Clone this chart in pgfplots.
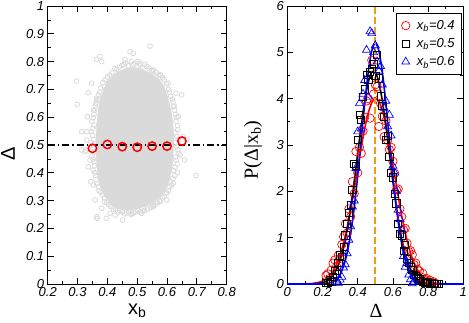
\documentclass[border=0pt]{standalone}
\usepackage{fontspec}
\setmainfont{Liberation Serif}
\setsansfont{Liberation Sans}
\usepackage{pgfplots}
\pgfplotsset{compat=1.18}
\definecolor{cloud}{HTML}{DADADA}
\definecolor{dashorange}{HTML}{F39C12}
\definecolor{gred}{HTML}{FF0000}
\definecolor{gblue}{HTML}{0000FF}

\pgfplotsset{
  grace/.style={
    scale only axis,
    axis line style={line width=0.9pt},
    tick align=inside,
    major tick length=6pt,
    minor tick length=3pt,
    every tick/.style={black,line width=0.8pt},
    tick label style={font=\sffamily\itshape\fontsize{13}{13}\selectfont},
    /pgf/number format/assume math mode=true,
  }
}

\begin{document}
\begin{tikzpicture}
% ---------------- left panel ----------------
\begin{axis}[grace,
  at={(0pt,0pt)}, anchor=south west,
  width=179pt, height=278pt,
  xmin=0.2, xmax=0.8, ymin=0, ymax=1,
  xtick={0.2,0.3,0.4,0.5,0.6,0.7,0.8},
  ytick={0,0.1,0.2,0.3,0.4,0.5,0.6,0.7,0.8,0.9,1},
  minor x tick num=1, minor y tick num=1,
  xlabel={\sffamily x\textsubscript{b}},
  ylabel={\sffamily Δ},
  label style={font=\fontsize{20}{20}\selectfont},
  xlabel style={at={(axis description cs:0.5,-0.108)}, anchor=base},
  ylabel style={at={(axis description cs:-0.222,0.47)}, anchor=center},
]
% dense core of the cloud
\addplot[fill=cloud, draw=cloud] coordinates {
  (0.40,0.73) (0.43,0.76) (0.46,0.775) (0.49,0.78) (0.52,0.77) (0.55,0.755)
  (0.575,0.735) (0.59,0.71) (0.60,0.68) (0.61,0.64) (0.617,0.60) (0.622,0.55)
  (0.622,0.50) (0.62,0.45) (0.615,0.41) (0.607,0.37) (0.595,0.34) (0.578,0.315)
  (0.555,0.295) (0.53,0.28) (0.50,0.27) (0.47,0.265) (0.44,0.27) (0.415,0.285)
  (0.395,0.31) (0.38,0.34) (0.37,0.38) (0.364,0.43) (0.362,0.48) (0.362,0.53)
  (0.365,0.58) (0.37,0.63) (0.378,0.67) (0.388,0.70)} -- cycle;
% edge and outlying points
\addplot[only marks, mark=o, mark size=2.4pt, cloud, line width=0.8pt] coordinates {
  (0.40,0.745) (0.415,0.76) (0.425,0.775) (0.44,0.78) (0.455,0.79) (0.47,0.785)
  (0.48,0.80) (0.495,0.795) (0.51,0.785) (0.525,0.79) (0.54,0.775) (0.555,0.77)
  (0.565,0.76) (0.58,0.75) (0.59,0.735) (0.385,0.725) (0.39,0.71) (0.375,0.69)
  (0.605,0.70) (0.612,0.675) (0.62,0.655) (0.625,0.625) (0.632,0.60) (0.635,0.57)
  (0.628,0.545) (0.638,0.52) (0.632,0.495) (0.64,0.47) (0.63,0.445) (0.627,0.42)
  (0.635,0.40) (0.62,0.38) (0.615,0.355) (0.605,0.335)
  (0.59,0.315) (0.575,0.30) (0.56,0.285) (0.545,0.275) (0.525,0.265) (0.51,0.258)
  (0.495,0.26) (0.48,0.25) (0.465,0.255) (0.45,0.26) (0.435,0.258) (0.42,0.27)
  (0.405,0.285) (0.39,0.295) (0.385,0.32)
  (0.372,0.335) (0.365,0.36) (0.36,0.39) (0.352,0.41) (0.355,0.44) (0.348,0.46)
  (0.352,0.49) (0.345,0.51) (0.35,0.535) (0.352,0.56) (0.348,0.585) (0.355,0.61)
  (0.36,0.64) (0.365,0.66) (0.37,0.68)
  (0.392,0.735) (0.408,0.752) (0.432,0.772) (0.448,0.786) (0.462,0.795)
  (0.488,0.79) (0.503,0.80) (0.518,0.78) (0.533,0.782) (0.548,0.768)
  (0.572,0.752) (0.585,0.742) (0.598,0.72)
  (0.608,0.69) (0.618,0.665) (0.624,0.64) (0.628,0.61) (0.63,0.585) (0.636,0.555)
  (0.633,0.53) (0.629,0.507) (0.636,0.483) (0.628,0.457) (0.634,0.432)
  (0.622,0.408) (0.626,0.39) (0.612,0.368) (0.608,0.35) (0.598,0.328)
  (0.585,0.31) (0.568,0.292) (0.552,0.282) (0.535,0.27) (0.518,0.262)
  (0.503,0.265) (0.488,0.256) (0.472,0.26) (0.458,0.252) (0.442,0.264)
  (0.428,0.266) (0.412,0.278) (0.398,0.292) (0.39,0.31)
  (0.378,0.33) (0.37,0.35) (0.362,0.375) (0.358,0.40) (0.356,0.425) (0.352,0.45)
  (0.357,0.475) (0.35,0.50) (0.355,0.52) (0.346,0.548) (0.356,0.572)
  (0.353,0.598) (0.358,0.625) (0.362,0.65) (0.372,0.665) (0.378,0.705)
  (0.297,0.730) (0.299,0.646) (0.336,0.688) (0.314,0.548) (0.333,0.602)
  (0.331,0.518) (0.325,0.476) (0.342,0.446) (0.336,0.422) (0.353,0.356)
  (0.359,0.302) (0.364,0.242) (0.366,0.236) (0.396,0.236) (0.426,0.248)
  (0.451,0.230) (0.482,0.254) (0.515,0.254) (0.543,0.856) (0.476,0.836)
  (0.487,0.830) (0.375,0.818) (0.381,0.800) (0.364,0.808) (0.459,0.808)
  (0.509,0.794) (0.554,0.764) (0.577,0.752) (0.604,0.722) (0.630,0.686)
  (0.649,0.680) (0.621,0.638) (0.638,0.602) (0.653,0.530) (0.666,0.520)
  (0.644,0.464) (0.658,0.446) (0.697,0.390) (0.621,0.362) (0.599,0.302)
  (0.577,0.296) (0.554,0.278) (0.599,0.328) (0.328,0.482) (0.344,0.368)
  (0.381,0.272) (0.409,0.254) (0.331,0.548) (0.314,0.482) (0.364,0.668)
  (0.353,0.626) (0.347,0.722)};
\addplot[black, line width=1.2pt, dash pattern=on 7pt off 3pt on 1.5pt off 3pt]
  coordinates {(0.2,0.5) (0.8,0.5)};
\addplot[only marks, mark=o, mark size=4.2pt, gred, line width=1.5pt] coordinates {
  (0.35,0.488) (0.40,0.502) (0.45,0.494) (0.50,0.492) (0.55,0.496) (0.60,0.496) (0.65,0.514)};
\end{axis}

% ---------------- right panel ----------------
\begin{axis}[grace,
  at={(239.6pt,0pt)}, anchor=south west,
  width=176pt, height=278pt,
  xmin=0, xmax=1, ymin=0, ymax=6,
  xtick={0,0.2,0.4,0.6,0.8,1},
  ytick={0,1,2,3,4,5,6},
  minor x tick num=1, minor y tick num=1,
  xlabel={Δ},
  ylabel={P(Δ|x\textsubscript{b})},
  label style={font=\rmfamily\fontsize{20}{20}\selectfont},
  xlabel style={at={(axis description cs:0.504,-0.119)}, anchor=base},
  ylabel style={at={(axis description cs:-0.195,0.482)}, anchor=center},
  legend style={draw=black, line width=0.8pt, at={(rel axis cs:0.993,0.975)},
    anchor=north east, font=\sffamily\itshape\fontsize{13}{15}\selectfont,
    cells={anchor=west}, row sep=3.5pt, inner xsep=5pt, inner ysep=5pt},
]
\addplot[only marks, mark=o, mark size=4.2pt, gred, line width=0.7pt] coordinates {
  (0.22,0.18) (0.23,0.22) (0.24,0.12) (0.25,0.30) (0.26,0.45) (0.27,0.52)
  (0.28,0.38) (0.29,0.62) (0.30,0.55) (0.31,0.85) (0.32,1.02) (0.33,1.30)
  (0.34,1.10) (0.35,1.62) (0.36,1.45) (0.37,2.21) (0.38,1.95) (0.39,2.86)
  (0.40,2.40) (0.41,2.95) (0.42,2.82) (0.43,3.30) (0.44,3.60) (0.45,3.95)
  (0.46,4.00) (0.47,3.58) (0.48,4.83) (0.49,4.10) (0.50,4.30) (0.51,4.26)
  (0.52,3.40) (0.53,3.90) (0.54,3.62) (0.55,3.18) (0.56,3.52) (0.57,3.10)
  (0.58,2.90) (0.59,2.95) (0.60,2.65) (0.61,2.39) (0.62,2.03) (0.63,2.05)
  (0.64,1.62) (0.65,1.45) (0.66,1.17) (0.67,1.20) (0.68,0.88) (0.69,0.70)
  (0.70,0.72) (0.71,0.63) (0.72,0.42) (0.73,0.45) (0.74,0.32) (0.75,0.28)
  (0.76,0.15) (0.77,0.23) (0.78,0.10) (0.79,0.12) (0.80,0.05) (0.81,0.08)
  (0.82,0.03) (0.83,0.05) (0.84,0.02)};
\addlegendentry{\hspace{5pt}x\textsubscript{b}=0.4}
\addplot[only marks, mark=square, mark size=3.6pt, black, line width=0.7pt] coordinates {
  (0.22,0.02) (0.23,0.03) (0.24,0.08) (0.25,0.05) (0.26,0.15) (0.27,0.28)
  (0.28,0.22) (0.29,0.45) (0.30,0.62) (0.31,0.58) (0.32,0.81) (0.33,1.05)
  (0.34,1.30) (0.35,1.53) (0.36,1.70) (0.37,2.03) (0.38,2.60) (0.39,2.55)
  (0.40,3.11) (0.41,3.65) (0.42,3.55) (0.43,4.04) (0.44,4.20) (0.45,4.51)
  (0.46,4.40) (0.47,4.58) (0.48,4.65) (0.49,4.76) (0.50,4.50) (0.51,4.94)
  (0.52,4.44) (0.53,4.05) (0.54,3.85) (0.55,3.61) (0.56,3.11) (0.57,3.20)
  (0.58,2.75) (0.59,2.40) (0.60,2.30) (0.61,1.95) (0.62,1.74) (0.63,1.30)
  (0.64,1.09) (0.65,1.05) (0.66,0.72) (0.67,0.84) (0.68,0.55) (0.69,0.45)
  (0.70,0.37) (0.71,0.30) (0.72,0.20) (0.73,0.18) (0.74,0.12) (0.75,0.10)
  (0.76,0.06) (0.77,0.05) (0.78,0.03) (0.79,0.04) (0.80,0.02) (0.81,0.01)
  (0.82,0.02) (0.83,0.01) (0.84,0.00) (0.85,0.01) (0.86,0.00)};
\addlegendentry{\hspace{5pt}x\textsubscript{b}=0.5}
\addplot[only marks, mark=triangle, mark size=4.6pt, gblue, line width=0.7pt] coordinates {
  (0.28,0.05) (0.29,0.02) (0.30,0.09) (0.31,0.15) (0.32,0.35) (0.33,0.42)
  (0.34,0.66) (0.35,0.95) (0.36,1.24) (0.37,1.67) (0.38,1.80) (0.39,2.50)
  (0.40,3.29) (0.41,3.90) (0.42,3.35) (0.43,4.10) (0.44,4.40) (0.45,5.05)
  (0.46,4.04) (0.47,5.45) (0.48,5.41) (0.49,5.00) (0.50,5.15) (0.51,4.80)
  (0.52,4.60) (0.53,4.70) (0.54,4.30) (0.55,3.80) (0.56,3.95) (0.57,3.40)
  (0.58,3.65) (0.59,3.20) (0.60,2.55) (0.61,2.40) (0.62,2.00) (0.63,1.60)
  (0.64,1.40) (0.65,1.17) (0.66,0.60) (0.67,0.37) (0.68,0.45) (0.69,0.20)
  (0.70,0.10) (0.71,0.01) (0.72,0.05)};
\addlegendentry{\hspace{5pt}x\textsubscript{b}=0.6}
% fitted curves
\addplot[gred, line width=1.6pt, smooth, forget plot] coordinates {
  (0,0) (0.10,0.001) (0.14,0.010) (0.16,0.020) (0.18,0.036) (0.20,0.063)
  (0.22,0.108) (0.24,0.177) (0.26,0.279) (0.28,0.426) (0.30,0.626) (0.32,0.888)
  (0.34,1.214) (0.36,1.600) (0.38,2.034) (0.40,2.493) (0.42,2.946) (0.44,3.359)
  (0.46,3.692) (0.48,3.913) (0.50,3.999) (0.52,3.942) (0.54,3.746) (0.56,3.433)
  (0.58,3.034) (0.60,2.585) (0.62,2.124) (0.64,1.683) (0.66,1.286) (0.68,0.947)
  (0.70,0.673) (0.72,0.461) (0.74,0.305) (0.76,0.194) (0.78,0.119) (0.80,0.071)
  (0.82,0.040) (0.84,0.022) (0.86,0.012) (0.88,0.006) (0.92,0.001) (1,0)};
\addplot[black, line width=1.6pt, smooth, forget plot] coordinates {
  (0,0) (0.12,0.001) (0.16,0.006) (0.18,0.014) (0.20,0.028) (0.22,0.055)
  (0.24,0.104) (0.26,0.186) (0.28,0.318) (0.30,0.516) (0.32,0.798) (0.34,1.176)
  (0.36,1.652) (0.38,2.209) (0.40,2.816) (0.42,3.418) (0.44,3.953) (0.46,4.356)
  (0.48,4.572) (0.50,4.572) (0.52,4.356) (0.54,3.953) (0.56,3.418) (0.58,2.816)
  (0.60,2.209) (0.62,1.652) (0.64,1.176) (0.66,0.798) (0.68,0.516) (0.70,0.318)
  (0.72,0.186) (0.74,0.104) (0.76,0.055) (0.78,0.028) (0.80,0.014) (0.82,0.006)
  (0.86,0.001) (1,0)};
\addplot[gblue, line width=1.6pt, smooth, forget plot] coordinates {
  (0,0) (0.16,0.001) (0.20,0.004) (0.22,0.010) (0.24,0.023) (0.26,0.052)
  (0.28,0.108) (0.30,0.212) (0.32,0.389) (0.34,0.671) (0.36,1.084) (0.38,1.643)
  (0.40,2.337) (0.42,3.116) (0.44,3.899) (0.46,4.575) (0.48,5.036) (0.50,5.200)
  (0.52,5.036) (0.54,4.575) (0.56,3.899) (0.58,3.116) (0.60,2.337) (0.62,1.643)
  (0.64,1.084) (0.66,0.671) (0.68,0.389) (0.70,0.212) (0.72,0.108) (0.74,0.052)
  (0.76,0.023) (0.78,0.010) (0.80,0.004) (0.84,0.001) (1,0)};
\addplot[dashorange, line width=2pt, dash pattern=on 7pt off 3pt, forget plot]
  coordinates {(0.5,0) (0.5,6)};
\end{axis}
\pgfresetboundingbox
\path[use as bounding box] (-47.7pt,-38pt) rectangle (421.3pt,284pt);
\end{tikzpicture}
\end{document}
